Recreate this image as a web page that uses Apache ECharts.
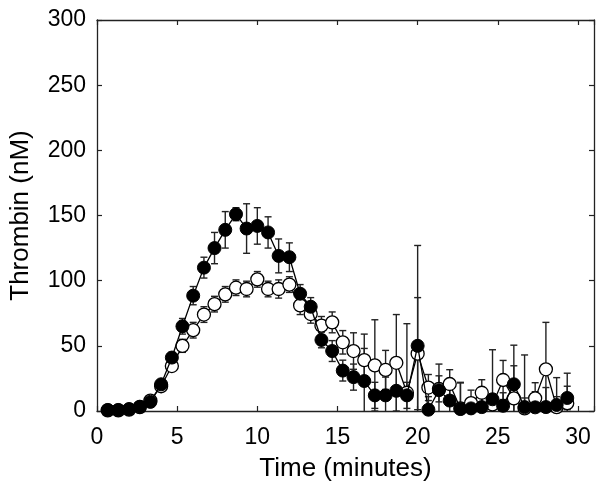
<!DOCTYPE html>
<html>
<head>
<meta charset="utf-8">
<script src="https://cdn.jsdelivr.net/npm/echarts@6/dist/echarts.min.js"></script>
<style>
  html, body { margin: 0; padding: 0; background: #fff; }
  #chart { width: 600px; height: 488px; }
</style>
</head>
<body>
<div id="chart"></div>
<script>
// time points (minutes)
var times = [0.67, 1.33, 2, 2.67, 3.33, 4, 4.67, 5.33, 6, 6.67, 7.33, 8, 8.67, 9.33, 10,
  10.67, 11.33, 12, 12.67, 13.33, 14, 14.67, 15.33, 16, 16.67, 17.33, 18, 18.67, 19.33, 20,
  20.67, 21.33, 22, 22.67, 23.33, 24, 24.67, 25.33, 26, 26.67, 27.33, 28, 28.67, 29.33];

// filled circles
var filledVals = [0.8, 0.8, 1.5, 3.3, 7, 20.5, 41, 65, 88.5, 110, 125, 139, 151, 140, 142,
  137, 119, 118, 90, 80, 54.5, 46, 31, 26, 23, 12, 12, 15.5, 12, 50,
  1, 16, 8, 1.5, 2, 3, 9, 4, 20.5, 3, 2.8, 3, 4.6, 10];
var filledErr = [1, 1, 1, 1, 2, 3, 4, 6, 7, 8, 12, 14, 5, 19, 14,
  12, 13, 11, 7, 7, 6, 8, 8, 10, 25, 10, 14, 18, 10, 77,
  10, 20, 10, 20, 8, 12, 38, 10, 30, 40, 12, 15, 21, 9];

// open circles
var openVals = [0.5, 0.5, 1, 3, 8, 19, 34.5, 50, 62, 74, 82, 89.5, 94.6, 93.6, 101,
  93.6, 93.6, 97, 81, 74.4, 65.5, 68, 52.7, 46, 39, 35, 31.5, 37, 14, 44,
  18, 17, 20.7, 2, 6, 14, 5, 23.8, 9.7, 2, 9.7, 32, 3, 6];
var openErr = [1, 1, 1, 1, 2, 3, 4, 5, 6, 6, 6, 6, 6, 6, 6,
  6, 7, 6, 7, 7, 7, 8, 9, 14, 20, 35, 15, 37, 53, 43,
  10, 10, 11, 20, 10, 10, 8, 15, 25, 8, 12, 36, 8, 23];

var xTicks = [0, 5, 10, 15, 20, 25, 30];

function pairs(vals) {
  return times.map(function (t, i) { return [t, vals[i]]; });
}
function errData(vals, errs) {
  return times.map(function (t, i) {
    return [t, Math.max(vals[i] - errs[i], 0), vals[i] + errs[i], vals[i] - errs[i] >= 0 ? 1 : 0];
  });
}

function renderErr(params, api) {
  var x = api.value(0);
  var lo = api.coord([x, api.value(1)]);
  var hi = api.coord([x, api.value(2)]);
  var half = 3.5;
  var st = { stroke: '#222', lineWidth: 1.4 };
  var kids = [
    { type: 'line', shape: { x1: lo[0], y1: lo[1], x2: hi[0], y2: hi[1] }, style: st },
    { type: 'line', shape: { x1: hi[0] - half, y1: hi[1], x2: hi[0] + half, y2: hi[1] }, style: st }
  ];
  if (api.value(3)) {
    kids.push({ type: 'line', shape: { x1: lo[0] - half, y1: lo[1], x2: lo[0] + half, y2: lo[1] }, style: st });
  }
  return { type: 'group', children: kids };
}

var font = 'Liberation Sans, Arial, sans-serif';
var chart = echarts.init(document.getElementById('chart'));

var frameLine = { onZero: false, lineStyle: { color: '#222', width: 1.3 } };
var frameTick = { inside: true, length: 5, lineStyle: { color: '#222', width: 1.2 } };

var option = {
  backgroundColor: '#fff',
  animation: false,
  grid: { left: 97, right: 6, top: 20, bottom: 77 },
  xAxis: [{
    type: 'value', min: 0, max: 31, interval: 5,
    name: 'Time (minutes)', nameLocation: 'middle', nameGap: 45,
    nameTextStyle: { fontFamily: font, fontSize: 26, color: '#000' },
    axisLine: frameLine,
    axisTick: frameTick,
    axisLabel: {
      fontFamily: font, fontSize: 23, color: '#000', margin: 15,
      formatter: function (v) { return xTicks.indexOf(v) >= 0 ? String(v) : ''; }
    },
    splitLine: { show: false }
  }, {
    type: 'value', position: 'top', min: 0, max: 31, interval: 5,
    axisLine: frameLine,
    axisTick: frameTick,
    axisLabel: { show: false },
    splitLine: { show: false }
  }],
  yAxis: [{
    type: 'value', min: 0, max: 300, interval: 50,
    name: 'Thrombin (nM)', nameLocation: 'middle', nameGap: 63,
    nameTextStyle: { fontFamily: font, fontSize: 26, color: '#000' },
    axisLine: Object.assign({ show: true }, frameLine),
    axisTick: Object.assign({ show: true }, frameTick),
    axisLabel: { fontFamily: font, fontSize: 23, color: '#000', margin: 11 },
    splitLine: { show: false }
  }, {
    type: 'value', position: 'right', min: 0, max: 300, interval: 50,
    axisLine: Object.assign({ show: true }, frameLine),
    axisTick: Object.assign({ show: true }, frameTick),
    axisLabel: { show: false },
    splitLine: { show: false }
  }],
  series: [
    {
      name: 'filled err', type: 'custom', renderItem: renderErr, clip: true,
      data: errData(filledVals, filledErr), z: 1
    },
    {
      name: 'open err', type: 'custom', renderItem: renderErr, clip: true,
      data: errData(openVals, openErr), z: 1
    },
    {
      name: 'open', type: 'line', data: pairs(openVals),
      symbol: 'circle', symbolSize: 13, showAllSymbol: true,
      lineStyle: { color: '#000', width: 1.3 },
      itemStyle: { color: '#fff', borderColor: '#000', borderWidth: 1.3 },
      z: 3
    },
    {
      name: 'filled', type: 'line', data: pairs(filledVals),
      symbol: 'circle', symbolSize: 13, showAllSymbol: true,
      lineStyle: { color: '#000', width: 1.3 },
      itemStyle: { color: '#000', borderColor: '#000', borderWidth: 1 },
      z: 4
    }
  ]
};

chart.setOption(option);
</script>
</body>
</html>
